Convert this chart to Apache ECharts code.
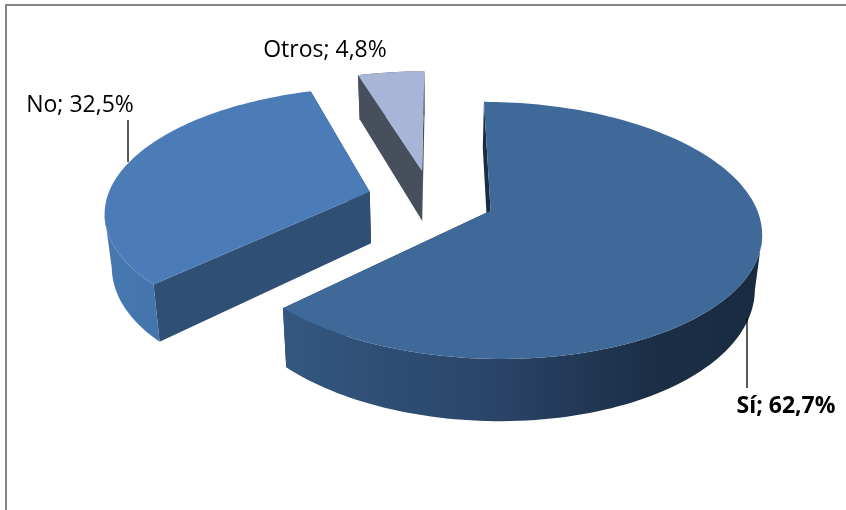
<!DOCTYPE html>
<html><head><meta charset="utf-8">
<style>html,body{margin:0;padding:0;background:#fff}#c{width:846px;height:510px}</style>
<script src="https://cdn.jsdelivr.net/npm/echarts@6/dist/echarts.min.js"></script>
</head><body><div id="c"></div>
<script>
// Data
const categories = ['Sí', 'No', 'Otros'];
const shares = [62.7, 32.5, 4.8];
const boldLabel = [true, false, false];

// Drawing styles
const topColors = ['#3f6999', '#4b7cb8', '#a7b6d6'];
const cutColors = ['#182c42', '#2f4f75', '#474f5c'];
const wallStops = [
  [[0, '#345781'], [0.45, '#2a4467'], [0.78, '#1a2e45'], [1, '#182b41']],
  [[0, '#4678b0'], [1, '#3d6a9c']],
  [[0, '#474f5c'], [1, '#474f5c']]
];
const labelPlace = [
  {x: 786, y: 406, line: [747, 318, 747, 388]},
  {x: 80, y: 105, line: [128, 120, 128, 162]},
  {x: 325, y: 50, line: null}
];

// Perspective model of the exploded 3D pie
const P = {cx: 431, cy: 199, R: 263, Q: 122, K: 0.15, explode: 0.243, H: 52, conv: 0.022, start: 0.3};
const total = shares.reduce((a, b) => a + b, 0);

function project(U, V, low) {
  const s = 1 / (1 - P.K * V);
  let x = P.cx + P.R * U * s, y = P.cy + P.Q * V * s;
  if (low) { x += (P.cx - x) * P.conv; y += P.H * s; }
  return [x, y];
}
function dir(deg) {
  const a = deg * Math.PI / 180;
  return [Math.sin(a), -Math.cos(a)];
}
function sweep(index) {
  let a0 = P.start;
  for (let i = 0; i < index; i++) a0 += shares[i] / total * 360;
  return [a0, a0 + shares[index] / total * 360];
}
function fmt(v) { return v.toFixed(1).replace('.', ',') + '%'; }
function extremeIndex(pts, sign) {
  let best = 0;
  pts.forEach((p, k) => { if (sign * p[0] > sign * pts[best][0]) best = k; });
  return best;
}

function renderItem(params, api) {
  const i = params.dataIndex, value = api.value(0);
  const [a0] = sweep(i);
  const a1 = a0 + value / total * 360;
  const mid = dir((a0 + a1) / 2);
  const c = [mid[0] * P.explode, mid[1] * P.explode];
  const arc = [];
  const n = Math.max(4, Math.round((a1 - a0) / 1.5));
  for (let k = 0; k <= n; k++) {
    const d = dir(a0 + (a1 - a0) * k / n);
    arc.push([c[0] + d[0], c[1] + d[1]]);
  }
  const topArc = arc.map(p => project(p[0], p[1], false));
  const lowArc = arc.map(p => project(p[0], p[1], true));
  const apexT = project(c[0], c[1], false), apexL = project(c[0], c[1], true);
  const xs = topArc.concat(lowArc).map(p => p[0]);
  const wallFill = {
    type: 'linear', global: true,
    x: Math.min.apply(null, xs), y: 0, x2: Math.max.apply(null, xs), y2: 0,
    colorStops: wallStops[i].map(s => ({offset: s[0], color: s[1]}))
  };
  const children = [];
  const poly = (pts, fill) => ({type: 'polygon', shape: {points: pts}, style: {fill: fill, stroke: null}});
  // radial cut walls
  children.push(poly([apexT, topArc[0], lowArc[0], apexL], cutColors[i]));
  children.push(poly([apexT, topArc[n], lowArc[n], apexL], cutColors[i]));
  // outer wall: only the part between the silhouette extremes faces the viewer
  const right = extremeIndex(topArc, 1), left = extremeIndex(topArc, -1);
  const lo = right > 0 && right < n ? right : 0;
  const hi = left > 0 && left < n ? left : n;
  children.push(poly(
    topArc.slice(lo, hi + 1).concat(lowArc.slice(lo, hi + 1).reverse()), wallFill));
  // top face
  children.push(poly([apexT].concat(topArc), topColors[i]));
  // leader line and label
  const place = labelPlace[i];
  if (place.line) {
    children.push({type: 'line',
      shape: {x1: place.line[0], y1: place.line[1], x2: place.line[2], y2: place.line[3]},
      style: {stroke: '#000', lineWidth: 1.3}});
  }
  children.push({type: 'text', style: {
    x: place.x, y: place.y,
    text: categories[i] + '; ' + fmt(value),
    fill: '#000', align: 'center', verticalAlign: 'middle',
    font: (boldLabel[i] ? 'bold ' : '') + '23px "Open Sans", sans-serif'
  }});
  return {type: 'group', children: children};
}

const chart = echarts.init(document.getElementById('c'), null, {renderer: 'canvas'});
chart.setOption({
  backgroundColor: '#fff',
  animation: false,
  graphic: [
    {type: 'line', shape: {x1: 6, y1: 5, x2: 846, y2: 5}, style: {stroke: '#868686', lineWidth: 2}},
    {type: 'line', shape: {x1: 6, y1: 4, x2: 6, y2: 510}, style: {stroke: '#868686', lineWidth: 2}}
  ],
  series: [{
    type: 'custom',
    coordinateSystem: 'none',
    renderItem: renderItem,
    data: shares.map(v => [v])
  }]
});
</script></body></html>
